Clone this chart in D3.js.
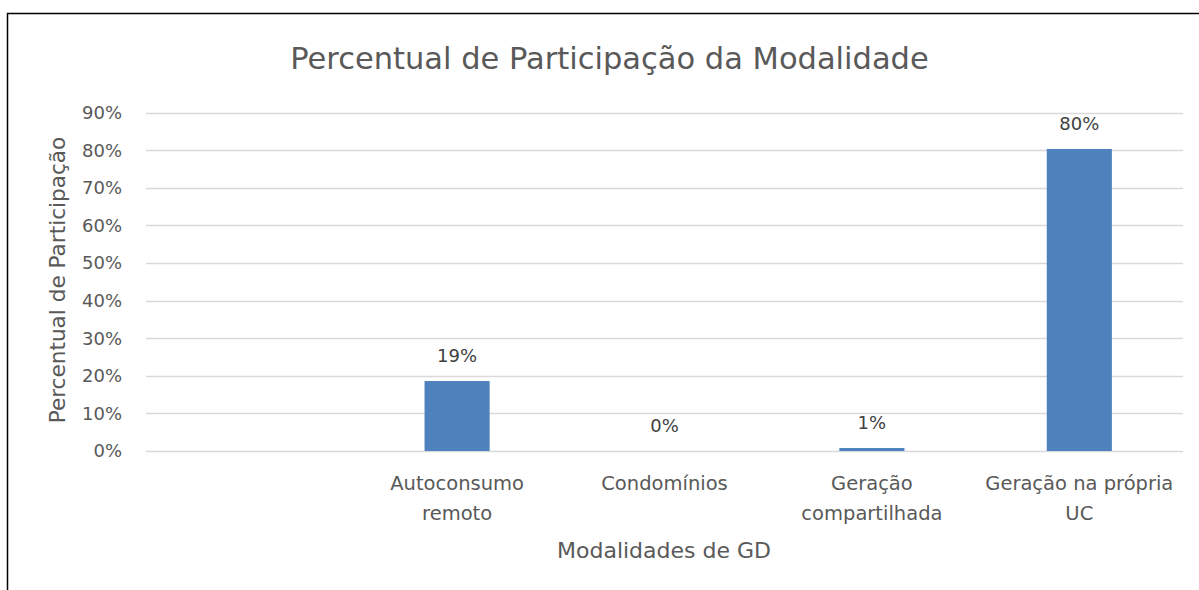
<!DOCTYPE html>
<html>
<head>
<meta charset="utf-8">
<script src="https://cdn.jsdelivr.net/npm/d3@7"></script>
<style>
  body { margin: 0; background: #fff; }
  text { font-family: "DejaVu Sans", sans-serif; fill: #595959; }
</style>
</head>
<body>
<div id="chart"></div>
<script>
// data
var categories = ["", "Autoconsumo\nremoto", "Condomínios", "Geração\ncompartilhada", "Geração na própria\nUC"];
var values = [null, 0.186, 0.0, 0.008, 0.803];
var yTicks = [0, 0.1, 0.2, 0.3, 0.4, 0.5, 0.6, 0.7, 0.8, 0.9];

var chartTitle = "Percentual de Participação da Modalidade";
var xTitle = "Modalidades de GD";
var yTitle = "Percentual de Participação";

var W = 1199, H = 590;
var margin = { left: 146, right: 16, top: 112.5, bottom: 139 };

var svg = d3.select("#chart").append("svg")
    .attr("width", W)
    .attr("height", H);

// chart frame (only top + left edges show in the crop)
svg.append("path")
    .attr("d", "M7.5," + H + "V13.5H" + W)
    .attr("fill", "none")
    .attr("stroke", "#000")
    .attr("stroke-width", 1.5);

var x = d3.scaleBand()
    .domain(d3.range(categories.length))
    .range([margin.left, W - margin.right])
    .padding(0);

var y = d3.scaleLinear()
    .domain([0, 0.9])
    .range([H - margin.bottom, margin.top]);

var fmt = d3.format(".0%");

// gridlines
svg.append("g")
    .selectAll("line")
    .data(yTicks)
    .enter().append("line")
    .attr("x1", margin.left)
    .attr("x2", W - margin.right)
    .attr("y1", function(d) { return Math.round(y(d)) + 0.5; })
    .attr("y2", function(d) { return Math.round(y(d)) + 0.5; })
    .attr("stroke", "#d9d9d9")
    .attr("stroke-width", 1.5);

// y tick labels
svg.append("g")
    .selectAll("text")
    .data(yTicks)
    .enter().append("text")
    .attr("x", margin.left - 24)
    .attr("y", function(d) { return y(d); })
    .attr("dy", "0.36em")
    .attr("text-anchor", "end")
    .style("font-size", "18px")
    .text(function(d) { return fmt(d); });

// bars
var barW = x.bandwidth() * 0.314;
var bars = categories.map(function(c, i) { return { i: i, v: values[i] }; })
    .filter(function(d) { return d.v != null; });

svg.append("g")
    .selectAll("rect")
    .data(bars)
    .enter().append("rect")
    .attr("x", function(d) { return x(d.i) + (x.bandwidth() - barW) / 2; })
    .attr("y", function(d) { return y(d.v); })
    .attr("width", barW)
    .attr("height", function(d) { return y(0) - y(d.v); })
    .attr("fill", "#4f81bd");

// data labels
svg.append("g")
    .selectAll("text")
    .data(bars)
    .enter().append("text")
    .attr("x", function(d) { return x(d.i) + x.bandwidth() / 2; })
    .attr("y", function(d) { return y(d.v) - 19; })
    .attr("text-anchor", "middle")
    .style("font-size", "18px")
    .style("fill", "#404040")
    .text(function(d) { return fmt(d.v); });

// category labels
var cat = svg.append("g")
    .selectAll("text")
    .data(categories)
    .enter().append("text")
    .attr("text-anchor", "middle")
    .style("font-size", "19.5px")
    .attr("transform", function(d, i) {
        return "translate(" + (x(i) + x.bandwidth() / 2) + ",490)";
    });

cat.selectAll("tspan")
    .data(function(d) { return d.split("\n"); })
    .enter().append("tspan")
    .attr("x", 0)
    .attr("y", function(d, j) { return j * 30; })
    .text(function(d) { return d; });

// axis titles
svg.append("text")
    .attr("x", 664)
    .attr("y", 558)
    .attr("text-anchor", "middle")
    .style("font-size", "22px")
    .text(xTitle);

svg.append("text")
    .attr("transform", "translate(65,280) rotate(-90)")
    .attr("text-anchor", "middle")
    .style("font-size", "21.6px")
    .text(yTitle);

// chart title
svg.append("text")
    .attr("x", 609.5)
    .attr("y", 69)
    .attr("text-anchor", "middle")
    .style("font-size", "30.5px")
    .text(chartTitle);
</script>
</body>
</html>
